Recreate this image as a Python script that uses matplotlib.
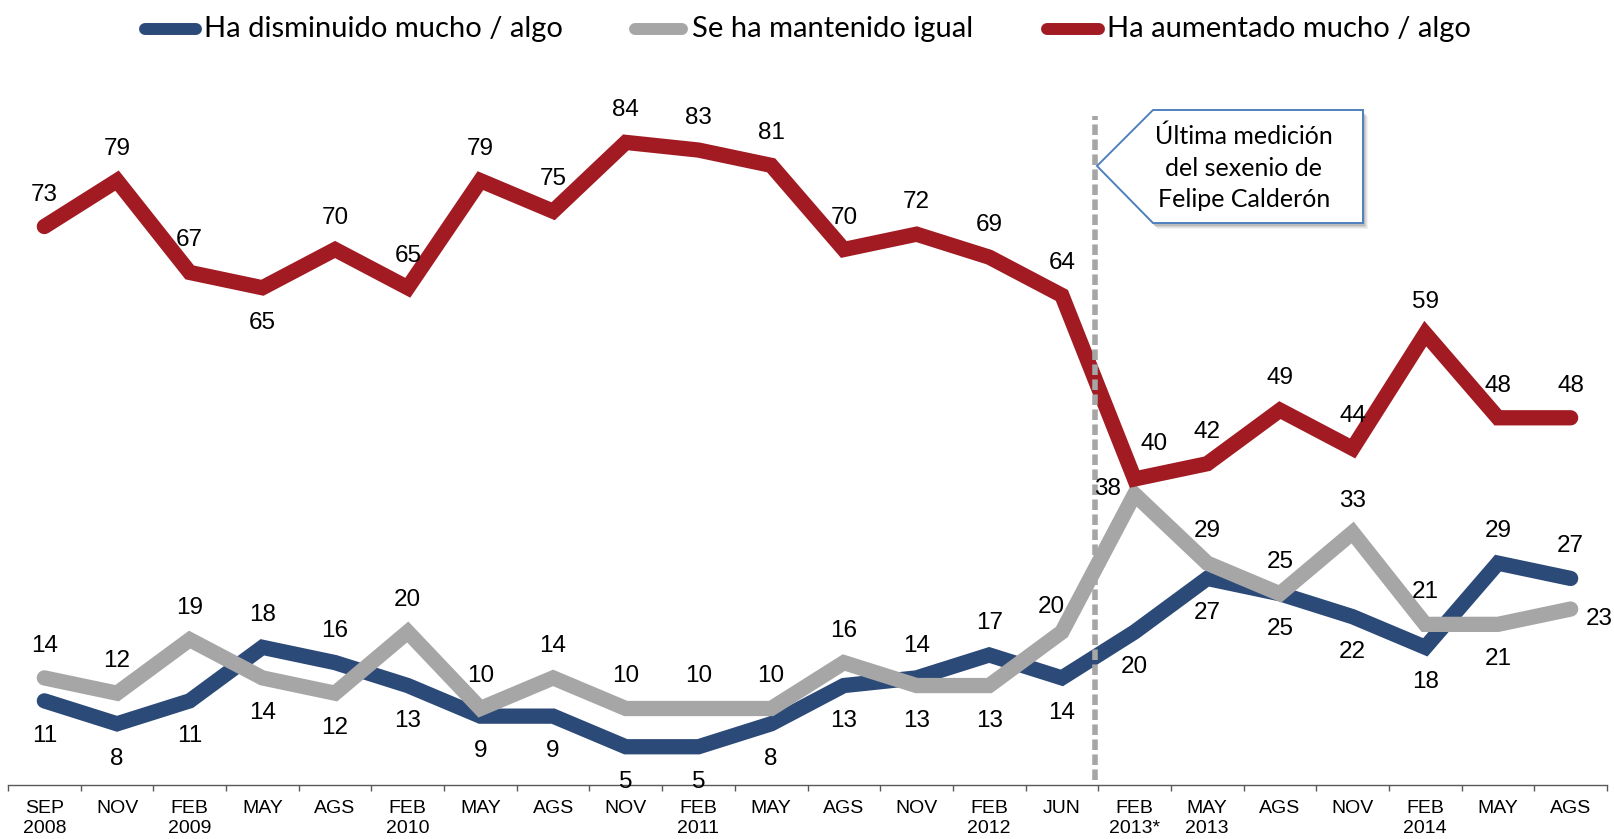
import matplotlib
matplotlib.use("Agg")
import matplotlib.pyplot as plt
from matplotlib.lines import Line2D
from matplotlib.patches import Polygon
import numpy as np

# ---------------- data ----------------
months = ["SEP\n2008", "NOV", "FEB\n2009", "MAY", "AGS", "FEB\n2010", "MAY", "AGS",
          "NOV", "FEB\n2011", "MAY", "AGS", "NOV", "FEB\n2012", "JUN", "FEB\n2013*",
          "MAY\n2013", "AGS", "NOV", "FEB\n2014", "MAY", "AGS"]
disminuido = [11, 8, 11, 18, 16, 13, 9, 9, 5, 5, 8, 13, 14, 17, 14, 20, 27, 25, 22, 18, 29, 27]
igual = [14, 12, 19, 14, 12, 20, 10, 14, 10, 10, 10, 16, 13, 13, 20, 38, 29, 25, 33, 21, 21, 23]
aumentado = [73, 79, 67, 65, 70, 65, 79, 75, 84, 83, 81, 70, 72, 69, 64, 40, 42, 49, 44, 59, 48, 48]
names = ["Ha disminuido mucho / algo", "Se ha mantenido igual", "Ha aumentado mucho / algo"]
colors = ["#2C4A78", "#A6A6A6", "#A21A22"]
callout_text = "Última medición\ndel sexenio de\nFelipe Calderón"

# label placement codes (a=above, b=below, ar/al/l/r special)
pos_dis = ["b", "b", "b", "a", "a", "b", "b", "b", "b", "b", "b", "b", "a", "a", "b", "b",
           "b", "b", "b", "b", "a", "a"]
pos_igu = ["a", "a", "a", "b", "b", "a", "a", "a", "a", "a", "a", "a", "b", "b", "al", "l",
           "a", "a", "a", "a", "b", "r"]
pos_aum = ["a", "a", "a", "b", "a", "a", "a", "a", "a", "a", "a", "a", "a", "a", "a", "ar",
           "a", "a", "a", "a", "a", "a"]
offsets_px = {"a": (0, 32), "b": (0, -35), "ar": (19, 35), "al": (-11, 25),
              "l": (-27, 5), "r": (29, -10)}

W, H = 1615, 839
fig = plt.figure(figsize=(W / 100, H / 100), dpi=100)
ax = fig.add_axes([8 / W, 54 / H, 1599 / W, 765 / H])
x = np.arange(len(months))

LABEL_FONT = ["Liberation Sans", "DejaVu Sans"]
CAL_FONT = ["Lato", "DejaVu Sans"]

series = [(disminuido, pos_dis), (igual, pos_igu), (aumentado, pos_aum)]
for k, ((vals, poss), c) in enumerate(zip(series, colors)):
    ax.plot(x, vals, color=c, lw=11, solid_capstyle="round", solid_joinstyle="miter",
            zorder=2 + k)
    for xi, v, p in zip(x, vals, poss):
        dx, dy = offsets_px[p]
        ax.annotate(str(v), (xi, v), xytext=(dx * 0.72, dy * 0.72),
                    textcoords="offset points", ha="center", va="center",
                    fontsize=17.5, family=LABEL_FONT, color="black", zorder=10)

# dashed vertical separator
ax.plot([14.45, 14.45], [0.6, 87.4], color="#A6A6A6", lw=4.0,
        dashes=(1.9, 0.8), dash_capstyle="butt", zorder=8)

ax.set_xlim(-0.5, len(months) - 0.5)
ax.set_ylim(0, 100)
for s in ["left", "right", "top"]:
    ax.spines[s].set_visible(False)
ax.spines["bottom"].set_color("#595959")
ax.spines["bottom"].set_linewidth(1.0)
ax.set_yticks([])
ax.set_xticks(np.arange(-0.5, len(months), 1))
ax.set_xticklabels([])
ax.tick_params(axis="x", which="major", direction="out", length=4, width=1, color="#595959")
ax.set_xticks(x, minor=True)
ax.set_xticklabels(months, minor=True, fontsize=14, family=LABEL_FONT, linespacing=1.2)
ax.tick_params(axis="x", which="minor", length=0, pad=11)

# ---------------- legend (manual) ----------------
leg_y = 1 - 29 / H
handles = [(145, 196, 204), (635, 682, 692), (1047, 1099, 1107)]
for (x0, x1, tx), c, n in zip(handles, colors, names):
    fig.add_artist(Line2D([x0 / W, x1 / W], [leg_y, leg_y], transform=fig.transFigure,
                          color=c, lw=8.6, solid_capstyle="round"))
    fig.text(tx / W, leg_y, n, ha="left", va="center", fontsize=21, family=CAL_FONT,
             color="black")

# ---------------- callout ----------------
pts = np.array([(1097, 166), (1153, 110), (1363, 110), (1363, 223), (1153, 223)], float)
for i, a in enumerate([0.05, 0.06, 0.08, 0.10]):
    off = 5 - i
    sh = pts + np.array([off, off + 1])
    fig.add_artist(Polygon(np.c_[sh[:, 0] / W, 1 - sh[:, 1] / H], closed=True,
                           transform=fig.transFigure, facecolor="black", edgecolor="none",
                           alpha=a, zorder=20))
fig.add_artist(Polygon(np.c_[pts[:, 0] / W, 1 - pts[:, 1] / H], closed=True,
                       transform=fig.transFigure, facecolor="white", edgecolor="#4F81BD",
                       lw=1.4, zorder=21))
fig.text(1244 / W, 1 - 168 / H, callout_text, ha="center", va="center", fontsize=18,
         family=CAL_FONT, linespacing=1.45, zorder=22)

fig.savefig("out.png", dpi=100)
